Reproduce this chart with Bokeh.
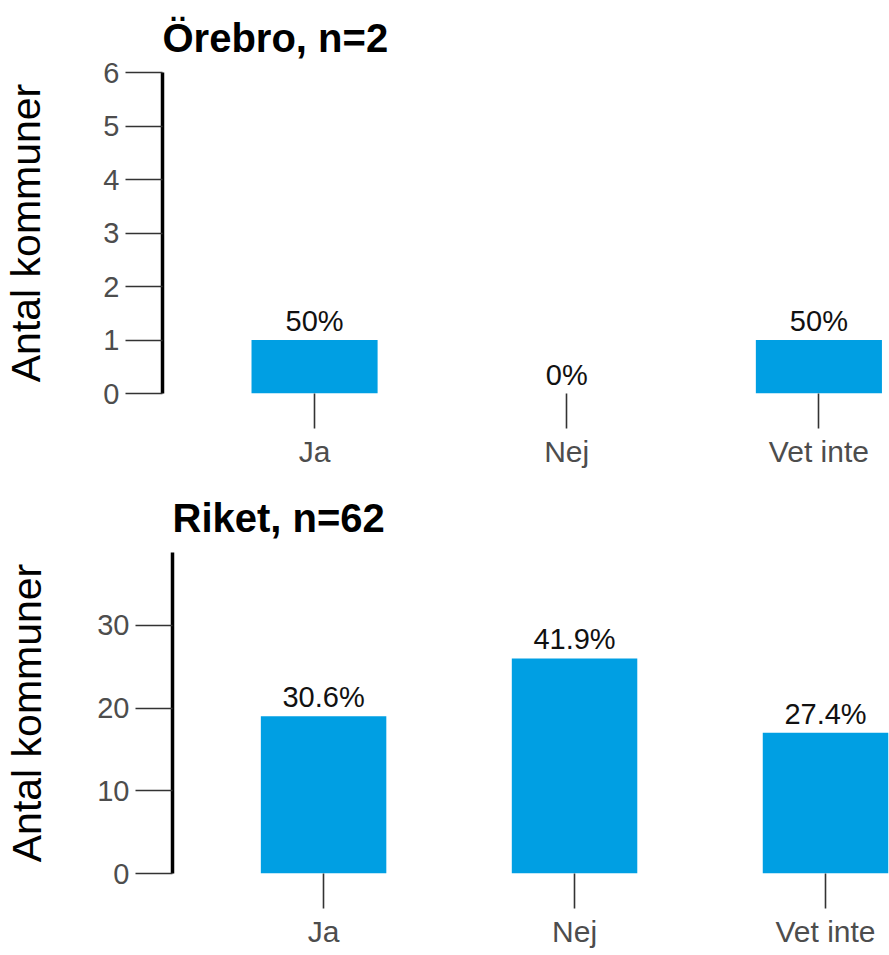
from bokeh.plotting import figure
from bokeh.models import ColumnDataSource, FixedTicker, Range1d
from bokeh.embed import file_html
from bokeh.resources import INLINE
from bokeh.core.properties import value

categories = ["Ja", "Nej", "Vet inte"]
orebro_counts = [1, 0, 1]
orebro_labels = ["50%", "0%", "50%"]
riket_counts = [19, 26, 17]
riket_labels = ["30.6%", "41.9%", "27.4%"]
orebro_title = "Örebro, n=2"
riket_title = "Riket, n=62"
orebro_yticks = [0, 1, 2, 3, 4, 5, 6]
riket_yticks = [0, 10, 20, 30]

FONT = "Liberation Sans"
BAR = "#009fe3"


def make(title, counts, labels, yticks, ymax, xstart, xend, left, height, bottom, standoff):
    xs = list(range(len(categories)))
    src = ColumnDataSource(dict(x=xs, top=counts, lab=labels))
    p = figure(width=889, height=height, output_backend="svg", toolbar_location=None,
               x_range=Range1d(xstart, xend), y_range=Range1d(0, ymax),
               min_border_left=left, min_border_right=0, min_border_top=72,
               min_border_bottom=bottom, title=title)
    p.vbar(x="x", top="top", width=0.5, bottom=0, source=src,
           fill_color=BAR, line_color=None)
    p.text(x="x", y="top", text="lab", source=src, text_align="center",
           text_baseline="bottom", y_offset=-3, text_font=value(FONT),
           text_font_size="29px", text_color="#111111")
    p.title.text_font = FONT
    p.title.text_font_size = "40px"
    p.title.text_font_style = "bold"
    p.title.text_color = "#000000"
    p.title.align = "left"
    p.title.offset = 0
    p.title.standoff = 25
    p.outline_line_color = None
    p.xgrid.visible = False
    p.ygrid.visible = False
    p.background_fill_color = "white"
    p.border_fill_color = "white"

    ya = p.yaxis[0]
    ya.ticker = FixedTicker(ticks=yticks)
    ya.axis_line_color = "black"
    ya.axis_line_width = 3.5
    ya.major_tick_out = 37
    ya.major_tick_in = 0
    ya.minor_tick_line_color = None
    ya.major_tick_line_color = "#333333"
    ya.major_tick_line_width = 1.6
    ya.major_label_text_font = FONT
    ya.major_label_text_font_size = "29px"
    ya.major_label_text_color = "#4d4d4d"
    ya.major_label_standoff = 6
    ya.axis_label = "Antal kommuner"
    ya.axis_label_text_font = FONT
    ya.axis_label_text_font_size = "41px"
    ya.axis_label_text_font_style = "normal"
    ya.axis_label_text_color = "#000000"
    ya.axis_label_text_line_height = 1.0
    ya.axis_label_standoff = standoff

    xa = p.xaxis[0]
    xa.ticker = FixedTicker(ticks=xs)
    xa.major_label_overrides = {i: c for i, c in zip(xs, categories)}
    xa.axis_line_color = None
    xa.major_tick_out = 35
    xa.major_tick_in = 0
    xa.minor_tick_line_color = None
    xa.major_tick_line_color = "#333333"
    xa.major_tick_line_width = 1.6
    xa.major_label_text_font = FONT
    xa.major_label_text_font_size = "30px"
    xa.major_label_text_color = "#4d4d4d"
    xa.major_label_standoff = 6
    return p


p1 = make(orebro_title, orebro_counts, orebro_labels, orebro_yticks, 6,
          -0.603, 2.28, 162, 480, 87, 51)
p2 = make(riket_title, riket_counts, riket_labels, riket_yticks, 38.8,
          -0.602, 2.255, 172, 475, 82, 44)

open("out.html", "w").write(file_html([p1, p2], INLINE))
